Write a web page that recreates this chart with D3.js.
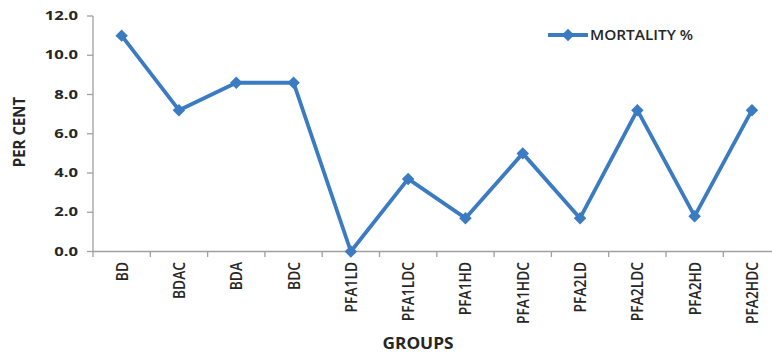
<!DOCTYPE html>
<html>
<head>
<meta charset="utf-8">
<script src="https://cdn.jsdelivr.net/npm/d3@7"></script>
<style>
  html, body { margin: 0; padding: 0; background: #ffffff; }
  svg { display: block; }
  text { font-family: "Open Sans", "Liberation Sans", sans-serif; fill: #262626; }
</style>
</head>
<body>
<svg id="chart" width="772" height="354"></svg>
<script>
// Mortality per group
const groups = ["BD", "BDAC", "BDA", "BDC", "PFA1LD", "PFA1LDC", "PFA1HD", "PFA1HDC", "PFA2LD", "PFA2LDC", "PFA2HD", "PFA2HDC"];
const mortality = [11.0, 7.2, 8.6, 8.6, 0.0, 3.7, 1.7, 5.0, 1.7, 7.2, 1.8, 7.2];
const yTicks = [0, 2, 4, 6, 8, 10, 12];
const seriesName = "MORTALITY %";

const svg = d3.select("#chart");
const lineColor = "#3b7bc1";
const axisColor = "#a0a0a0";

const plotLeft = 93, plotTop = 16, plotBottom = 251.5;
const bandW = 57.3;

const x = d3.scaleBand()
  .domain(groups)
  .range([plotLeft, plotLeft + bandW * groups.length])
  .paddingInner(0).paddingOuter(0);

const y = d3.scaleLinear()
  .domain([0, 12])
  .range([plotBottom, plotTop]);

// Y axis
const yAxis = svg.append("g").attr("transform", `translate(${plotLeft},0)`);
yAxis.append("line")
  .attr("x1", 0).attr("x2", 0)
  .attr("y1", y(12)).attr("y2", y(0))
  .attr("stroke", axisColor).attr("stroke-width", 1.3);
yAxis.selectAll("line.tick").data(yTicks).enter().append("line")
  .attr("class", "tick")
  .attr("x1", -6).attr("x2", 0)
  .attr("y1", d => y(d)).attr("y2", d => y(d))
  .attr("stroke", axisColor).attr("stroke-width", 1.3);
svg.append("g").selectAll("text").data(yTicks).enter().append("text")
  .attr("transform", d => `translate(78,${y(d)}) scale(1.45,1)`)
  .attr("text-anchor", "end")
  .attr("dy", "0.36em")
  .attr("font-size", 11.5)
  .attr("font-weight", 700)
  .text(d => d3.format(".1f")(d));

// X axis
const xAxis = svg.append("g");
xAxis.append("line")
  .attr("x1", plotLeft).attr("x2", x.range()[1])
  .attr("y1", y(0)).attr("y2", y(0))
  .attr("stroke", axisColor).attr("stroke-width", 1.3);
const boundaries = groups.map(g => x(g)).concat([x.range()[1]]);
xAxis.selectAll("line.tick").data(boundaries).enter().append("line")
  .attr("class", "tick")
  .attr("x1", d => d).attr("x2", d => d)
  .attr("y1", y(0)).attr("y2", y(0) + 5.5)
  .attr("stroke", axisColor).attr("stroke-width", 1.3);
xAxis.selectAll("text").data(groups).enter().append("text")
  .attr("transform", d => `translate(${x(d) + x.bandwidth() / 2},262) scale(1.2,1) rotate(-90)`)
  .attr("text-anchor", "end")
  .attr("dy", "0.36em")
  .attr("font-size", 13.8)
  .attr("font-weight", 600)
  .text(d => d);

// Axis titles
svg.append("text")
  .attr("transform", "translate(19,132) scale(1.12,1) rotate(-90)")
  .attr("text-anchor", "middle")
  .attr("dy", "0.36em")
  .attr("font-size", 15)
  .attr("font-weight", 700)
  .text("PER CENT");
svg.append("text")
  .attr("transform", "translate(418,343) scale(1.08,1)")
  .attr("text-anchor", "middle")
  .attr("dy", "0.36em")
  .attr("font-size", 16)
  .attr("font-weight", 700)
  .text("GROUPS");

// Series line and markers
const data = groups.map((g, i) => ({ g, v: mortality[i] }));
const cx = d => x(d.g) + x.bandwidth() / 2;

svg.append("path")
  .datum(data)
  .attr("fill", "none")
  .attr("stroke", lineColor)
  .attr("stroke-width", 3.8)
  .attr("stroke-linejoin", "round")
  .attr("d", d3.line().x(cx).y(d => y(d.v)));

const diamond = d3.symbol().type(d3.symbolSquare).size(78);
svg.append("g").selectAll("path").data(data).enter().append("path")
  .attr("d", diamond)
  .attr("transform", d => `translate(${cx(d)},${y(d.v)}) rotate(45)`)
  .attr("fill", lineColor);

// Legend
const lg = svg.append("g").attr("transform", "translate(548,35)");
lg.append("line")
  .attr("x1", 0).attr("x2", 40).attr("y1", 0).attr("y2", 0)
  .attr("stroke", lineColor).attr("stroke-width", 3.8);
lg.append("path")
  .attr("d", diamond)
  .attr("transform", "translate(20,0) rotate(45)")
  .attr("fill", lineColor);
lg.append("text")
  .attr("transform", "translate(42,0) scale(1.1,1)")
  .attr("dy", "0.36em")
  .attr("font-size", 14)
  .attr("font-weight", 600)
  .text(seriesName);
</script>
</body>
</html>
